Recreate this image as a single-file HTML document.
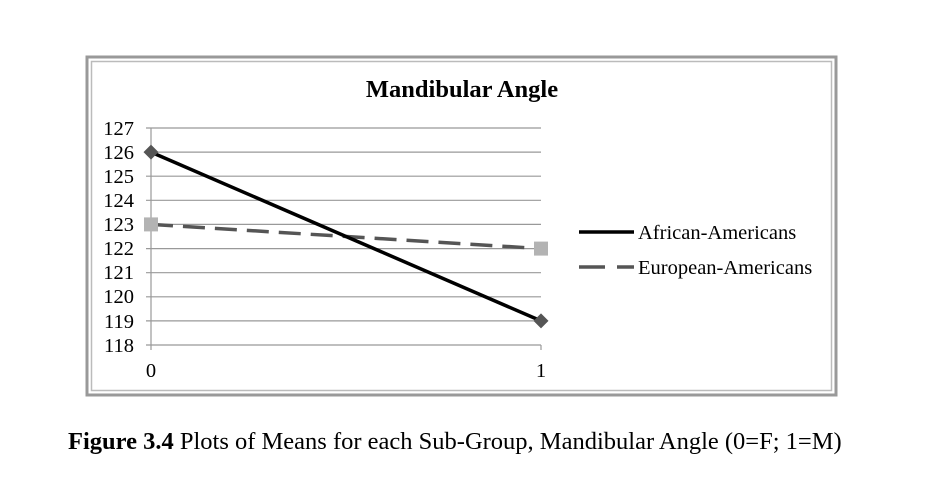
<!DOCTYPE html>
<html><head><style>
body{margin:0;background:#fff;width:927px;height:500px;overflow:hidden;}
svg{position:absolute;left:0;top:0}
text{font-family:"Liberation Serif",serif;fill:#000}
</style></head><body>
<svg width="927" height="500" xmlns="http://www.w3.org/2000/svg">
<rect x="87" y="57" width="749" height="338" fill="#fff" stroke="#999" stroke-width="3"/>
<rect x="91.5" y="61.5" width="740" height="329" fill="none" stroke="#bbb" stroke-width="1.5"/>
<text x="462" y="97" font-size="24.5" font-weight="bold" text-anchor="middle">Mandibular Angle</text>
<g stroke="#999" stroke-width="1.2">
<line x1="146" y1="128" x2="541" y2="128"/>
<line x1="146" y1="152.1" x2="541" y2="152.1"/>
<line x1="146" y1="176.2" x2="541" y2="176.2"/>
<line x1="146" y1="200.3" x2="541" y2="200.3"/>
<line x1="146" y1="224.4" x2="541" y2="224.4"/>
<line x1="146" y1="248.6" x2="541" y2="248.6"/>
<line x1="146" y1="272.7" x2="541" y2="272.7"/>
<line x1="146" y1="296.8" x2="541" y2="296.8"/>
<line x1="146" y1="320.9" x2="541" y2="320.9"/>
<line x1="146" y1="345" x2="541" y2="345"/>
<line x1="151" y1="128" x2="151" y2="350"/>
<line x1="541" y1="345" x2="541" y2="350"/>
</g>
<g font-size="20.5" text-anchor="end">
<text x="134" y="135">127</text><text x="134" y="159">126</text><text x="134" y="183">125</text>
<text x="134" y="207">124</text><text x="134" y="231">123</text><text x="134" y="255">122</text>
<text x="134" y="279">121</text><text x="134" y="303">120</text><text x="134" y="328">119</text>
<text x="134" y="352">118</text>
</g>
<text x="151" y="377" font-size="20.5" text-anchor="middle">0</text>
<text x="541" y="377" font-size="20.5" text-anchor="middle">1</text>
<line x1="151" y1="224.4" x2="541" y2="248.6" stroke="#555" stroke-width="3.5" stroke-dasharray="22,10"/>
<rect x="144" y="217.4" width="14" height="14" fill="#b3b3b3"/>
<rect x="534" y="241.6" width="14" height="14" fill="#b3b3b3"/>
<line x1="151" y1="152.1" x2="541" y2="320.9" stroke="#000" stroke-width="3.5"/>
<polygon points="151,144.6 158.5,152.1 151,159.6 143.5,152.1" fill="#555"/>
<polygon points="541,313.4 548.5,320.9 541,328.4 533.5,320.9" fill="#555"/>
<line x1="579" y1="232" x2="634" y2="232" stroke="#000" stroke-width="3.5"/>
<text x="638" y="239" font-size="20.5">African-Americans</text>
<line x1="579" y1="267" x2="634" y2="267" stroke="#555" stroke-width="3.5" stroke-dasharray="26,12"/>
<text x="638" y="274" font-size="20.5">European-Americans</text>
<text x="68" y="449" font-size="24.5"><tspan font-weight="bold">Figure 3.4</tspan> Plots of Means for each Sub-Group, Mandibular Angle (0=F; 1=M)</text>
</svg>
</body></html>
